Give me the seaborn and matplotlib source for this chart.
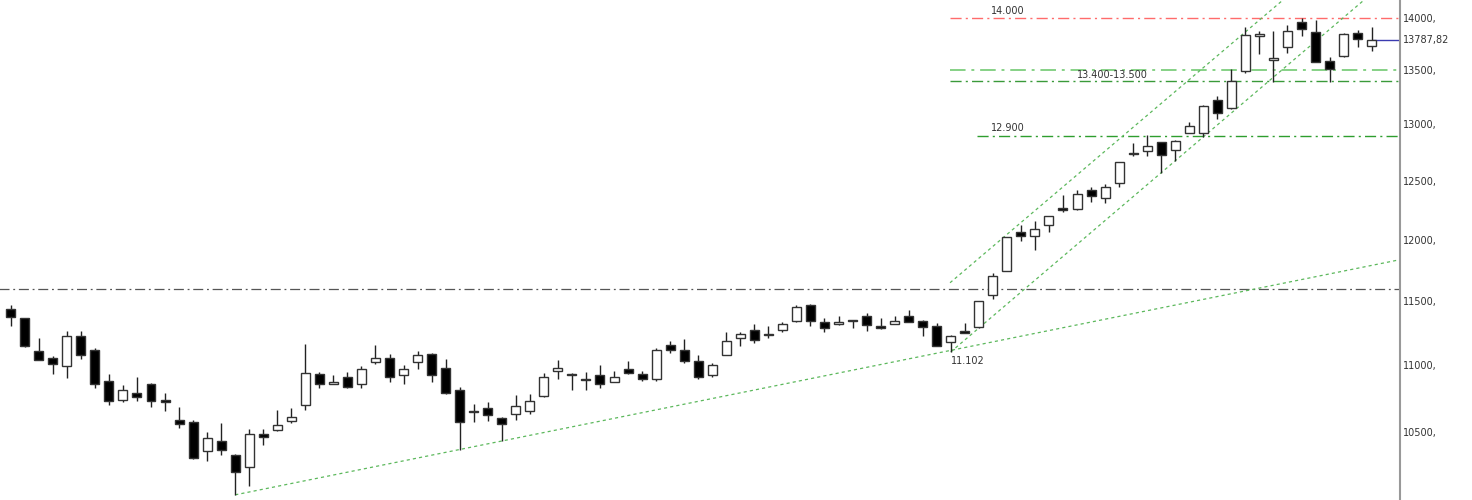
import numpy as np
import pandas as pd
import matplotlib
matplotlib.use("Agg")
import matplotlib.pyplot as plt
import matplotlib.ticker as mticker
import seaborn as sns

# OHLC values (one candle per session)
opens = [11439, 11366, 11111, 11059, 10992, 11223, 11117, 10882, 10738, 10787,
         10858, 10738, 10589, 10574, 10362, 10438, 10338, 10251, 10485, 10517,
         10586, 10701, 10932, 10860, 10907, 10858, 11023, 11054, 10929, 11028,
         11085, 10977, 10810, 10658, 10678, 10604, 10631, 10658, 10770, 10957,
         10934, 10895, 10927, 10872, 10974, 10934, 10897, 11152, 11117, 11031,
         10922, 11080, 11210, 11273, 11241, 11273, 11345, 11470, 11338, 11320,
         11351, 11384, 11306, 11322, 11379, 11343, 11306, 11179, 11262, 11296,
         11548, 11740, 12067, 12035, 12126, 12268, 12259, 12424, 12353, 12486,
         12745, 12759, 12839, 12768, 12922, 12927, 13225, 13149, 13492, 13825,
         13597, 13718, 13962, 13866, 13584, 13635, 13851, 13730]
highs = [11470, 11369, 11210, 11070, 11262, 11262, 11132, 10932, 10852, 10907,
         10865, 10787, 10683, 10593, 10504, 10569, 10343, 10526, 10526, 10666,
         10681, 11160, 10947, 10925, 10947, 10994, 11156, 11085, 11002, 11111,
         11093, 11046, 10835, 10711, 10723, 10611, 10775, 10781, 10940, 11041,
         10944, 10949, 10999, 10957, 11035, 10955, 11135, 11184, 11202, 11078,
         11015, 11257, 11257, 11322, 11301, 11338, 11470, 11475, 11366, 11384,
         11353, 11406, 11363, 11379, 11426, 11353, 11327, 11236, 11327, 11505,
         11727, 12027, 12126, 12154, 12200, 12381, 12424, 12446, 12475, 12670,
         12834, 12907, 12845, 12863, 13026, 13177, 13262, 13511, 13908, 13876,
         13870, 13930, 13994, 13978, 13628, 13851, 13883, 13908]
lows = [11306, 11137, 11040, 10937, 10902, 11049, 10828, 10703, 10723, 10728,
        10683, 10653, 10529, 10305, 10291, 10333, 10054, 10113, 10407, 10507,
        10571, 10666, 10825, 10855, 10825, 10825, 11012, 10872, 10855, 10974,
        10872, 10785, 10374, 10578, 10581, 10438, 10591, 10636, 10760, 10895,
        10815, 10815, 10828, 10870, 10934, 10880, 10877, 11093, 11020, 10895,
        10914, 11075, 11150, 11171, 11210, 11257, 11332, 11306, 11254, 11314,
        11288, 11265, 11281, 11320, 11332, 11228, 11148, 11102, 11245, 11290,
        11516, 11740, 11993, 11917, 12069, 12237, 12248, 12322, 12310, 12452,
        12715, 12715, 12568, 12677, 12920, 12892, 13053, 13145, 13476, 13654,
        13393, 13660, 13825, 13575, 13393, 13628, 13718, 13676]
closes = [11377, 11148, 11043, 11007, 11223, 11080, 10858, 10733, 10813, 10758,
          10728, 10723, 10559, 10315, 10461, 10372, 10212, 10487, 10468, 10552,
          10611, 10940, 10858, 10875, 10835, 10969, 11056, 10910, 10969, 11078,
          10922, 10790, 10576, 10649, 10626, 10564, 10696, 10728, 10907, 10979,
          10922, 10887, 10860, 10910, 10944, 10899, 11117, 11119, 11031, 10914,
          11004, 11189, 11244, 11192, 11234, 11316, 11457, 11345, 11288, 11338,
          11340, 11312, 11291, 11343, 11338, 11296, 11150, 11223, 11249, 11499,
          11703, 12021, 12030, 12089, 12197, 12248, 12390, 12367, 12452, 12665,
          12736, 12807, 12727, 12848, 12987, 13170, 13103, 13403, 13835, 13845,
          13618, 13873, 13889, 13580, 13513, 13842, 13794, 13787.82]

# horizontal levels
level_prices = [14000, 13500, 13400, 12900]
level_starts = [66.95, 66.95, 66.95, 68.9]
level_colors = ["#ff6b6b", "#86d186", "#3a9a3a", "#2e9e2e"]
level_widths = [1, 1.4, 1, 1]
pivot_price = 11600
last_price = 13787.82

# trend lines: (x0, y0, x1, y1) in candle index / price
support_x = [16, 99.02]
support_y = [10054, 11836]
chan_up_x = [66.95, 90.68]
chan_up_y = [11648, 14173]
chan_lo_x = [67, 96.46]
chan_lo_y = [11102, 14173]

major_ticks = [10500, 11000, 11500, 12000, 12500, 13000, 13500, 14000]
minor_ticks = [10250, 10750, 11250, 11750, 12250, 12750, 13250, 13750]

df = pd.DataFrame({"open": opens, "high": highs, "low": lows, "close": closes})
df["x"] = np.arange(len(df))
df["up"] = df["close"] >= df["open"]

sns.set_theme(style="white")
plt.rcParams["font.family"] = ["DejaVu Sans"]

fig = plt.figure(figsize=(14.72, 5), dpi=100)
ax = fig.add_axes([0, 0, 1400 / 1472, 1])
ax.set_yscale("log")

# wicks
ax.vlines(df["x"], df["low"], df["high"], color="#222222", linewidth=1, zorder=3)

# bodies
body_w = 0.64
bottoms = np.minimum(df["open"], df["close"])
heights = np.maximum(np.abs(df["close"] - df["open"]), 2)
face = np.where(df["up"], "white", "black")
ax.bar(df["x"], heights, bottom=bottoms, width=body_w, color=face,
       edgecolor="#333333", linewidth=1, zorder=4)

xmax = 99.02
dashdot = (0, (8, 3, 1.5, 3))
# levels
for p, s, c, w in zip(level_prices, level_starts, level_colors, level_widths):
    ax.plot([s, xmax], [p, p], color=c, linewidth=w, linestyle=dashdot, zorder=2)
ax.plot([-1, xmax], [pivot_price, pivot_price], color="#555555", linewidth=0.9,
        linestyle=dashdot, zorder=2)
ax.plot([97, xmax], [last_price, last_price], color="#3b3bb0", linewidth=1, zorder=2)

# trend lines
for xs, ys in [(support_x, support_y), (chan_up_x, chan_up_y), (chan_lo_x, chan_lo_y)]:
    ax.plot(xs, ys, color="#5cb85c", linewidth=0.9, linestyle=(0, (2.5, 2.5)), zorder=2)

# annotations
txt = dict(fontsize=7, color="#333333", zorder=5)
ax.text(69.9, 14000 * 1.0015, "14.000", ha="left", va="bottom", **txt)
ax.text(69.9, 12900 * 1.002, "12.900", ha="left", va="bottom", **txt)
ax.text(76.0, 13452, "13.400-13.500", ha="left", va="center", **txt)
ax.text(67.0, 11102 * 0.997, "11.102", ha="left", va="top", **txt)

ax.set_xlim(-0.763, xmax)
ax.set_ylim(10018, 14173)

# right axis
ax.yaxis.tick_right()
ax.yaxis.set_major_locator(mticker.FixedLocator(major_ticks))
ax.yaxis.set_minor_locator(mticker.FixedLocator(minor_ticks))
ax.yaxis.set_major_formatter(mticker.FuncFormatter(lambda v, pos: f"{v:.0f},"))
ax.yaxis.set_minor_formatter(mticker.NullFormatter())
ax.tick_params(axis="y", which="major", direction="in", length=5, width=1,
               color="#333333", labelsize=7, labelcolor="#333333", pad=2)
ax.tick_params(axis="y", which="minor", direction="in", length=2.5, width=1, color="#333333")
ax.set_xticks([])
ax.text(1.002, last_price, "13787,82", transform=ax.get_yaxis_transform(),
        fontsize=7, color="#333333", va="center", ha="left", clip_on=False)

sns.despine(ax=ax, left=True, top=True, bottom=True, right=False)
ax.spines["right"].set_color("#999999")
ax.spines["right"].set_linewidth(1.5)
ax.grid(False)

fig.savefig("out.png", dpi=100)
